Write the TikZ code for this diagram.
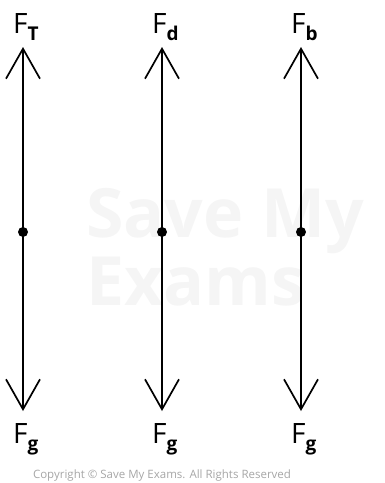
\documentclass[tikz,border=0pt]{standalone}
\usepackage{fontspec}
\setmainfont{Open Sans}
\usetikzlibrary{arrows.meta}
\newcommand{\forcelabel}[1]{F\raisebox{-0.5ex}{\fontsize{19}{19}\selectfont\bfseries #1}}

\begin{document}
\begin{tikzpicture}[x=1pt, y=-1pt,
    force/.style={line width=1.7pt, {Straight Barb[length=30pt, width=34pt]}-{Straight Barb[length=30pt, width=34pt]}},
    centre/.style={circle, fill, inner sep=0pt, minimum size=10pt},
    lbl/.style={anchor=base west, inner sep=0pt, font=\fontsize{28}{28}\selectfont},
    mark text/.style={text=black!4, font=\fontsize{68}{60}\selectfont\bfseries, anchor=base west, inner sep=0pt}]
    \useasboundingbox (0,0) rectangle (385,483);
    % watermark
    \node[mark text] (wm1) at (86,237) {Save My};
    \node[mark text] (wm2) at (86,305) {Exams};
    % tension
    \coordinate (top1) at (23,47);
    \coordinate (bot1) at (23,411);
    \node[centre] (c1) at (23,232) {};
    \node[lbl] (ft) at (13,33) {\forcelabel{T}};
    \node[lbl] (fg1) at (13,443) {\forcelabel{g}};
    \draw[force] (bot1) -- (top1);
    % drag
    \coordinate (top2) at (162,47);
    \coordinate (bot2) at (162,411);
    \node[centre] (c2) at (162,232) {};
    \node[lbl] (fd) at (152,33) {\forcelabel{d}};
    \node[lbl] (fg2) at (152,443) {\forcelabel{g}};
    \draw[force] (bot2) -- (top2);
    % buoyancy
    \coordinate (top3) at (301,47);
    \coordinate (bot3) at (301,411);
    \node[centre] (c3) at (301,232) {};
    \node[lbl] (fb) at (291,33) {\forcelabel{b}};
    \node[lbl] (fg3) at (291,443) {\forcelabel{g}};
    \draw[force] (bot3) -- (top3);
    \node[text=black!35, font=\fontsize{11.5}{11.5}\selectfont] (copy) at (162,476) {Copyright \textcopyright\ Save My Exams. All Rights Reserved};
\end{tikzpicture}
\end{document}
